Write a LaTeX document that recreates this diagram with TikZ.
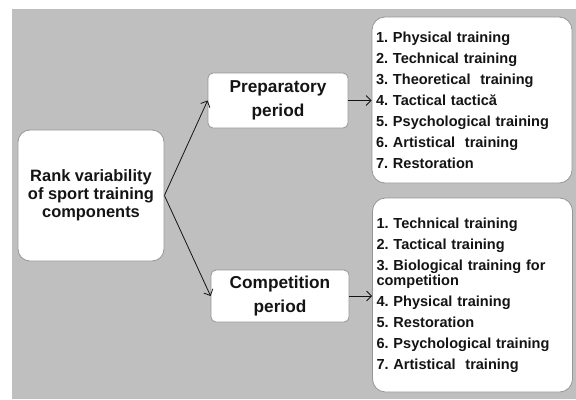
\documentclass[tikz,border=0pt]{standalone}
\usepackage{xcolor}
\usepackage{fontspec}
\setmainfont{Liberation Sans}
\usepackage{tikz}
\usetikzlibrary{positioning, calc, arrows.meta}

\definecolor{bggray}{RGB}{191,191,191}
\definecolor{boxline}{RGB}{150,150,150}
\definecolor{inkgray}{RGB}{20,20,20}

\tikzset{
	basebox/.style={draw=boxline, line width=0.8bp, fill=white, text=inkgray, align=center},
	rankbox/.style={basebox, rounded corners=12bp, minimum width=146bp, minimum height=131bp,
		font=\fontsize{16.5}{18}\selectfont\bfseries},
	periodbox/.style={basebox, rounded corners=5bp, minimum width=140bp, minimum height=55bp,
		font=\fontsize{17.3}{24.5}\selectfont\bfseries},
	listbox/.style={basebox, rounded corners=13bp, align=left, text width=192bp, inner sep=4bp,
		minimum width=200bp, font=\fontsize{14.6}{15.5}\selectfont\bfseries\frenchspacing},
	link/.style={->, draw=inkgray, line width=0.8bp}
}

\def\gap{\\[5.5bp]}

\begin{document}
\begin{tikzpicture}[x=1bp, y=-1bp, >={Straight Barb[length=5bp, width=10bp]}]
	
	%//background, pixel grid 576 x 399
	\useasboundingbox (0,0) rectangle (576,399);
	\fill[bggray] (12,9) rectangle (576,399);
	
	\node [rankbox] (rank) at (91,195.5) {Rank variability\\of sport training\\components};
	
	\node [periodbox] (prep) at (278,100.5) {Preparatory\\period};
	\node [periodbox, minimum width=138bp, minimum height=52bp] (comp) at (280,296) {Competition\\period};
	
	\node [listbox, minimum height=166bp] (prepList) at (472,100) {1. Physical training\gap
		2. Technical training\gap
		3. Theoretical\ \ training\gap
		4. Tactical tactică\gap
		5. Psychological training\gap
		6. Artistical\ \ training\gap
		7. Restoration};
	
	\node [listbox, minimum height=194bp] (compList) at (472.5,295) {1. Technical training\gap
		2. Tactical training\gap
		3. Biological training for\\competition\gap
		4. Physical training\gap
		5. Restoration\gap
		6. Psychological training\gap
		7. Artistical\ \ training};
	
	%//connectors
	\draw [link] (rank.east) -- (prep.west);
	\draw [link] (rank.east) -- (comp.west);
	\draw [link] (prep.east) -- (prep.east -| prepList.west);
	\draw [link] (comp.east) -- (comp.east -| compList.west);
	
\end{tikzpicture}
\end{document}
